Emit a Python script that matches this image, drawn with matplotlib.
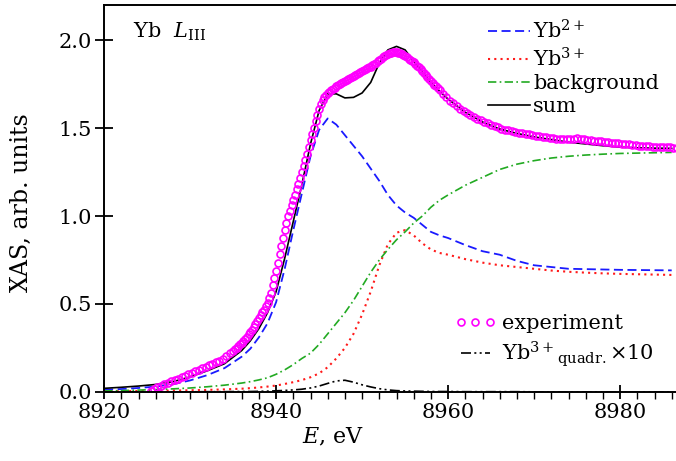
import numpy as np
import matplotlib
matplotlib.use('Agg')
import matplotlib.pyplot as plt
from matplotlib.ticker import MultipleLocator

plt.rcParams['font.family'] = ['DejaVu Serif']
plt.rcParams['mathtext.fontset'] = 'dejavuserif'

# experiment: pre-edge (0.4 eV step from 8925.4)
xas_pre = [0.005, 0.015, 0.025, 0.034, 0.043, 0.051, 0.059, 0.067, 0.075, 0.083,
           0.091, 0.100, 0.109, 0.118, 0.127, 0.135, 0.143, 0.151, 0.159, 0.168,
           0.178, 0.189, 0.205, 0.220]
# edge region (0.2 eV step from 8935.0)
xas_edge = [0.235, 0.243, 0.252, 0.261, 0.270, 0.280, 0.291, 0.302, 0.314, 0.327,
            0.340, 0.354, 0.369, 0.385, 0.402, 0.420, 0.436, 0.452, 0.468, 0.486,
            0.508, 0.535, 0.565, 0.605, 0.645, 0.690, 0.735, 0.785, 0.830, 0.875,
            0.920, 0.960, 1.000, 1.030, 1.060, 1.090, 1.120, 1.155, 1.185, 1.215,
            1.250, 1.285, 1.320, 1.355, 1.390, 1.430, 1.465, 1.500, 1.540, 1.575,
            1.610, 1.640, 1.662, 1.678, 1.690, 1.700, 1.708, 1.715, 1.722, 1.730,
            1.738, 1.745, 1.751, 1.757, 1.763, 1.769, 1.774, 1.779, 1.784, 1.789,
            1.795, 1.800, 1.806, 1.812, 1.818, 1.824, 1.830, 1.835, 1.840, 1.845,
            1.850, 1.857, 1.865, 1.873, 1.881, 1.889, 1.896, 1.903, 1.909, 1.915,
            1.920, 1.925, 1.929, 1.931, 1.932, 1.932, 1.930, 1.927, 1.922, 1.916,
            1.910, 1.903, 1.896, 1.889, 1.882, 1.875, 1.866, 1.856, 1.846, 1.836,
            1.825, 1.814, 1.803, 1.792, 1.781, 1.770, 1.759, 1.748, 1.737, 1.726,
            1.715]
# post-edge (0.4 eV step from 8959.4)
xas_post = [1.694, 1.675, 1.657, 1.641, 1.625, 1.611, 1.597, 1.584, 1.572, 1.561,
            1.552, 1.544, 1.536, 1.528, 1.520, 1.512, 1.504, 1.497, 1.492, 1.487,
            1.483, 1.479, 1.475, 1.471, 1.468, 1.465, 1.461, 1.458, 1.454, 1.451,
            1.448, 1.445, 1.443, 1.441, 1.440, 1.439, 1.438, 1.438, 1.440, 1.442,
            1.441, 1.437, 1.434, 1.431, 1.428, 1.426, 1.424, 1.421, 1.419, 1.417,
            1.415, 1.413, 1.411, 1.409, 1.407, 1.405, 1.403, 1.401, 1.399, 1.398,
            1.397, 1.395, 1.394, 1.393, 1.392, 1.391, 1.390, 1.389, 1.388]

e_exp = np.concatenate([8925.4 + 0.4 * np.arange(len(xas_pre)),
                        8935.0 + 0.2 * np.arange(len(xas_edge)),
                        8959.4 + 0.4 * np.arange(len(xas_post))])
xas_exp = xas_pre + xas_edge + xas_post

# fit components
e_fit = [8920, 8922, 8924, 8926, 8928, 8930, 8932, 8934, 8936, 8937,
         8938, 8939, 8940, 8941, 8942, 8943, 8944, 8945, 8946, 8947,
         8948, 8949, 8950, 8951, 8952, 8953, 8954, 8955, 8956, 8957,
         8958, 8959, 8960, 8962, 8964, 8966, 8968, 8970, 8972, 8974,
         8976, 8978, 8980, 8982, 8984, 8986]
yb2 = [0.012, 0.016, 0.022, 0.030, 0.043, 0.065, 0.095, 0.135, 0.20, 0.245,
       0.31, 0.39, 0.51, 0.70, 0.92, 1.13, 1.34, 1.49, 1.555, 1.52,
       1.46, 1.40, 1.34, 1.27, 1.20, 1.12, 1.06, 1.02, 0.99, 0.95,
       0.91, 0.89, 0.875, 0.835, 0.80, 0.78, 0.745, 0.72, 0.71, 0.70,
       0.698, 0.696, 0.694, 0.693, 0.692, 0.691]
yb3 = [0.003, 0.004, 0.005, 0.006, 0.007, 0.009, 0.011, 0.014, 0.018, 0.021,
       0.025, 0.030, 0.036, 0.045, 0.055, 0.067, 0.083, 0.105, 0.14, 0.19,
       0.25, 0.33, 0.44, 0.57, 0.72, 0.84, 0.905, 0.92, 0.89, 0.845,
       0.81, 0.79, 0.78, 0.755, 0.735, 0.72, 0.71, 0.70, 0.69, 0.683,
       0.678, 0.674, 0.671, 0.669, 0.667, 0.665]
bkg = [0.005, 0.007, 0.010, 0.013, 0.017, 0.022, 0.029, 0.038, 0.050, 0.058,
       0.068, 0.08, 0.10, 0.125, 0.155, 0.19, 0.22, 0.27, 0.33, 0.39,
       0.45, 0.52, 0.60, 0.68, 0.75, 0.81, 0.865, 0.91, 0.96, 1.00,
       1.05, 1.09, 1.12, 1.175, 1.22, 1.265, 1.295, 1.315, 1.33, 1.34,
       1.347, 1.352, 1.356, 1.358, 1.36, 1.362]
total = [0.020, 0.026, 0.033, 0.042, 0.058, 0.085, 0.12, 0.16, 0.235, 0.29,
         0.36, 0.45, 0.57, 0.76, 0.97, 1.18, 1.41, 1.60, 1.695, 1.695,
         1.672, 1.675, 1.70, 1.76, 1.87, 1.945, 1.965, 1.945, 1.88, 1.82,
         1.76, 1.71, 1.665, 1.59, 1.535, 1.495, 1.47, 1.45, 1.435, 1.42,
         1.41, 1.40, 1.392, 1.388, 1.386, 1.385]
quadr10 = [0.0, 0.0, 0.0, 0.0, 0.0, 0.0, 0.001, 0.001, 0.002, 0.002,
           0.003, 0.004, 0.006, 0.008, 0.011, 0.015, 0.022, 0.033, 0.048, 0.062,
           0.066, 0.055, 0.040, 0.028, 0.018, 0.011, 0.007, 0.005, 0.004, 0.003,
           0.002, 0.002, 0.002, 0.001, 0.001, 0.001, 0.001, 0.0, 0.0, 0.0,
           0.0, 0.0, 0.0, 0.0, 0.0, 0.0]

fig = plt.figure(figsize=(6.76, 4.61), dpi=100)
ax = fig.add_axes([0.154, 0.150, 0.846, 0.839])

l1, = ax.plot(e_fit, yb2, color='#1a1aff', lw=1.3, ls=(0, (5, 2.5)), label='Yb$^{2+}$')
l2, = ax.plot(e_fit, yb3, color='#ff1a1a', lw=1.5, ls=(0, (1, 2)), label='Yb$^{3+}$')
l3, = ax.plot(e_fit, bkg, color='#22aa22', lw=1.2, ls=(0, (5, 2, 1, 2)), label='background')
l4, = ax.plot(e_fit, total, color='black', lw=1.2, label='sum')
l6, = ax.plot(e_fit, quadr10, color='black', lw=1.2, ls=(0, (6, 2, 1.2, 2, 1.2, 2)),
              label='Yb$^{3+}{}_{\\rm quadr.}$$\\times$10')
l5, = ax.plot(e_exp, xas_exp, ls='none', marker='o', ms=5, mfc='none',
              mec='#ff00ff', mew=1.2, label='experiment')

ax.set_xlim(8920, 8986.5)
ax.set_ylim(0, 2.2)
ax.xaxis.set_major_locator(MultipleLocator(20))
ax.xaxis.set_minor_locator(MultipleLocator(2))
ax.yaxis.set_major_locator(MultipleLocator(0.5))
ax.tick_params(axis='x', which='major', direction='inout', length=10, width=1.3,
               labelsize=15, pad=3)
ax.tick_params(axis='x', which='minor', direction='out', length=5, width=1.0)
ax.tick_params(axis='y', which='major', direction='inout', length=13, width=1.3,
               labelsize=15, pad=2)
ax.yaxis.set_major_formatter(plt.FormatStrFormatter('%.1f'))
for s in ['left', 'bottom', 'top']:
    ax.spines[s].set_linewidth(1.4)
ax.spines['right'].set_visible(False)

ax.set_xlabel('$E$, eV', fontsize=16)
ax.xaxis.set_label_coords(0.40, -0.09)
ax.set_ylabel('XAS, arb. units', fontsize=17)
ax.yaxis.set_label_coords(-0.124, 0.49)
ax.text(0.05, 0.96, 'Yb  $L_{\\rm III}$', transform=ax.transAxes, fontsize=15,
        va='top', ha='left')

leg1 = ax.legend(handles=[l1, l2, l3, l4], loc='upper left', bbox_to_anchor=(0.65, 0.995),
                 frameon=False, fontsize=15, handlelength=2.0, handletextpad=0.15,
                 labelspacing=0.2, borderaxespad=0.2)
ax.add_artist(leg1)
ax.legend(handles=[l5, l6], loc='upper left', bbox_to_anchor=(0.58, 0.25),
          frameon=False, fontsize=15, handlelength=2.0, handletextpad=0.3,
          labelspacing=0.3, numpoints=3)

fig.savefig('out.png', dpi=100)
